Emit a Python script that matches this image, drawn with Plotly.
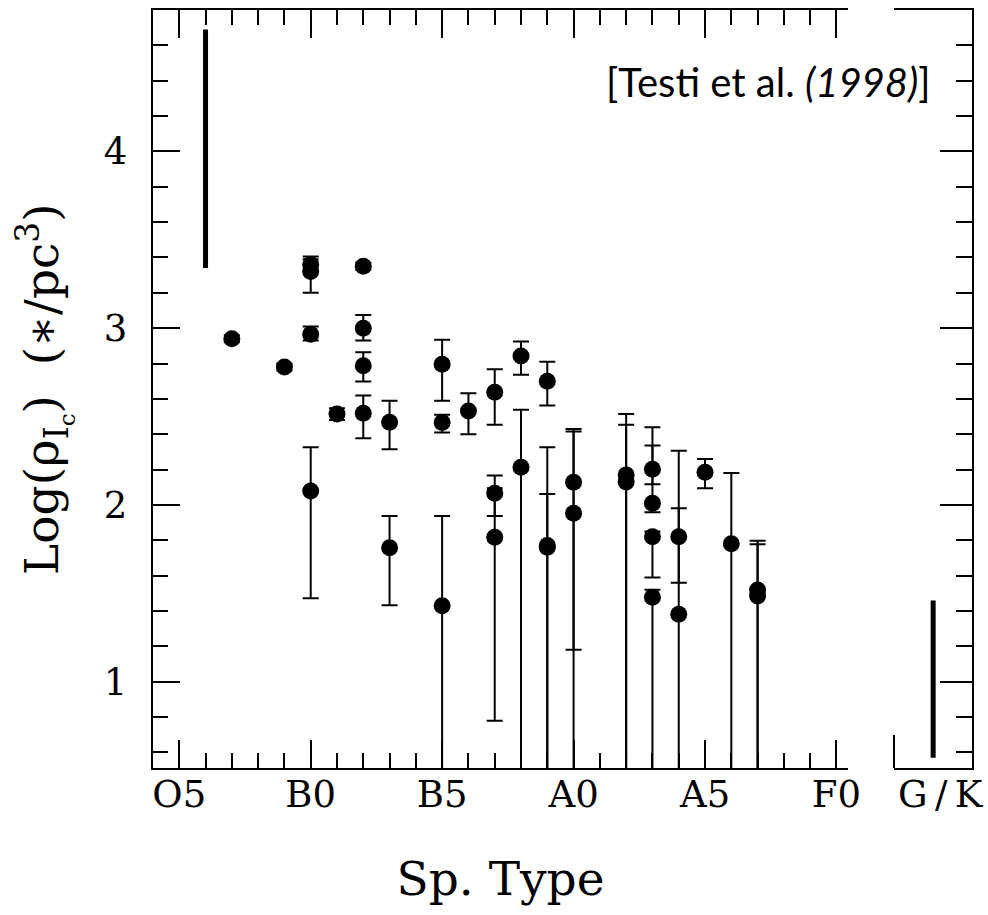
import plotly.graph_objects as go
import numpy as np

# ---- data (spectral subtype index: O5=5, B0=10, B5=15, A0=20, A5=25, F0=30) ----
sp_type = [7, 9, 10, 10, 10, 10, 11, 12, 12, 12, 12, 13, 13, 15, 15, 15, 16, 17, 17, 17,
           18, 18, 19, 19, 19, 20, 20, 22, 22, 23, 23, 23, 23, 24, 24, 25, 26, 27, 27]
log_rho = [2.94, 2.78, 3.36, 3.32, 2.966, 2.079, 2.515, 3.35, 3.00, 2.787, 2.519, 2.468, 1.758,
           2.796, 2.466, 1.43, 2.532, 2.638, 2.066, 1.817, 2.843, 2.213, 2.70, 1.77, 1.76,
           2.128, 1.953, 2.17, 2.13, 2.202, 2.01, 1.82, 1.478, 1.82, 1.381, 2.185, 1.78, 1.519, 1.485]
upper = [2.96, 2.80, 3.405, 3.39, 3.01, 2.327, 2.547, 3.37, 3.075, 2.864, 2.619, 2.589, 1.938,
         2.934, 2.51, 1.938, 2.632, 2.768, 2.166, 2.094, 2.924, 2.538, 2.81, 2.327, 2.062,
         2.43, 2.415, 2.515, 2.453, 2.44, 2.336, 1.849, 1.52, 2.306, 1.981, 2.26, 2.18, 1.798, 1.778]
lower = [2.92, 2.76, 3.33, 3.20, 2.93, 1.472, 2.48, 3.33, 2.93, 2.698, 2.377, 2.315, 1.432,
         2.589, 2.41, 0.0, 2.40, 2.453, 1.938, 0.779, 2.736, 0.0, 2.562, 0.0, 0.0,
         1.18, 0.0, 0.0, 0.0, 2.117, 1.959, 1.589, 0.0, 1.56, 0.0, 2.094, 0.0, 0.0, 0.0]

# range bars (O stars, G/K stars)
o_bar_type = 6
o_bar_low, o_bar_high = 3.34, 4.69
gk_bar_pos = 0.5
gk_bar_low, gk_bar_high = 0.57, 1.46

x_tickvals = [5, 10, 15, 20, 25, 30]
x_ticktext = ["O5", "B0", "B5", "A0", "A5", "F0"]
gk_ticktext = ["G\u2009/\u2009K"]
y_tickvals = [1, 2, 3, 4]
y_ticktext = ["1", "2", "3", "4"]

W, H = 988, 915
serif = "DejaVu Serif"

y = np.array(log_rho)
ep = np.array(upper) - y
em = y - np.array(lower)

fig = go.Figure()
fig.add_trace(go.Scatter(
    x=sp_type, y=log_rho, mode="markers",
    marker=dict(size=17, color="black", symbol="circle", line=dict(width=0)),
    error_y=dict(type="data", symmetric=False, array=ep, arrayminus=em,
                 color="black", thickness=2, width=8),
    xaxis="x", yaxis="y", showlegend=False))
fig.add_trace(go.Scatter(
    x=[o_bar_type, o_bar_type], y=[o_bar_low, o_bar_high], mode="lines",
    line=dict(color="black", width=5), xaxis="x", yaxis="y", showlegend=False))
fig.add_trace(go.Scatter(
    x=[gk_bar_pos, gk_bar_pos], y=[gk_bar_low, gk_bar_high], mode="lines",
    line=dict(color="black", width=5), xaxis="x2", yaxis="y2", showlegend=False))

ydom = [1 - 768.3 / H, 1 - 10 / H]
yrange = [0.51, 4.80]

common_line = dict(showline=True, linecolor="black", linewidth=2, showgrid=False,
                   zeroline=False, tickcolor="black", tickwidth=2)

fig.update_layout(
    width=W, height=H, margin=dict(l=0, r=0, t=0, b=0),
    paper_bgcolor="white", plot_bgcolor="white",
    font=dict(family=serif, color="black"),
    xaxis=dict(domain=[152.7 / W, 848.3 / W], range=[3.99, 30.45],
               tickmode="array", tickvals=x_tickvals, ticktext=x_ticktext,
               ticks="inside", ticklen=28, mirror="ticks",
               minor=dict(dtick=1, tick0=0, ticks="inside", ticklen=15,
                          tickcolor="black", tickwidth=2),
               tickfont=dict(family=serif, size=37, color="black"),
               ticklabelstandoff=-8,
               title=dict(text="Sp. Type", font=dict(family=serif, size=47, color="black"),
                          standoff=47),
               automargin=False, anchor="y", **common_line),
    yaxis=dict(domain=ydom, range=yrange,
               tickmode="array", tickvals=y_tickvals, ticktext=y_ticktext,
               ticks="inside", ticklen=27,
               minor=dict(dtick=0.2, tick0=0, ticks="inside", ticklen=15,
                          tickcolor="black", tickwidth=2),
               tickfont=dict(family=serif, size=37, color="black"),
               ticklabelstandoff=16,
               title=dict(text="Log(ρ<sub>I<sub>c</sub></sub>)  (∗/pc<sup>3</sup>)",
                          font=dict(family=serif, size=47, color="black"), standoff=30),
               automargin=False, anchor="x", **common_line),
    xaxis2=dict(domain=[894 / W, 972.3 / W], range=[0, 1],
                tickmode="array", tickvals=[gk_bar_pos], ticktext=gk_ticktext,
                ticks="", mirror=True,
                minor=dict(tickmode="array", tickvals=[0.0005], ticks="inside", ticklen=33,
                           tickcolor="black", tickwidth=2),
                tickfont=dict(family=serif, size=37, color="black"),
                ticklabelstandoff=-8, ticklabelshift=7,
                automargin=False, anchor="y2", **common_line),
    yaxis2=dict(domain=ydom, range=yrange, side="right",
                tickmode="array", tickvals=y_tickvals,
                ticks="inside", ticklen=32, showticklabels=False,
                minor=dict(dtick=0.2, tick0=0, ticks="inside", ticklen=16,
                           tickcolor="black", tickwidth=2),
                automargin=False, anchor="x2", **common_line),
    annotations=[dict(text="[Testi et al. <i>(1998)</i>]", xref="paper", yref="paper",
                      x=933 / W, y=1 - 82 / H, xanchor="right", yanchor="middle",
                      showarrow=False, font=dict(family="Lato", size=40, color="black"))],
)

fig.write_html("out.html")
